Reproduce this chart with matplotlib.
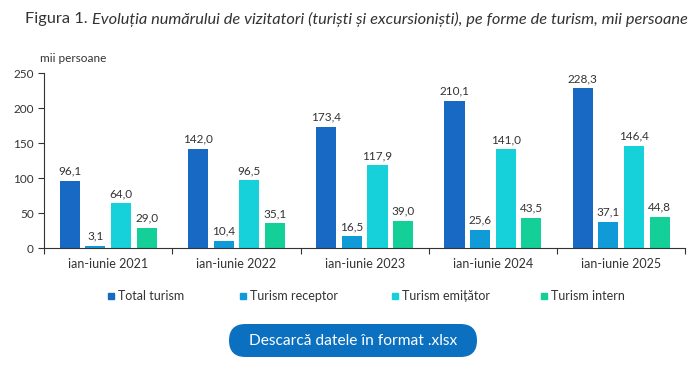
import numpy as np
import matplotlib.pyplot as plt
from matplotlib.patches import FancyBboxPatch, Rectangle

plt.rcParams['font.family'] = ['Lato', 'DejaVu Sans']

# data
categories = ['ian-iunie 2021', 'ian-iunie 2022', 'ian-iunie 2023', 'ian-iunie 2024', 'ian-iunie 2025']
series_names = ['Total turism', 'Turism receptor', 'Turism emițător', 'Turism intern']
total = [96.1, 142.0, 173.4, 210.1, 228.3]
receptor = [3.1, 10.4, 16.5, 25.6, 37.1]
emitator = [64.0, 96.5, 117.9, 141.0, 146.4]
intern = [29.0, 35.1, 39.0, 43.5, 44.8]
yticks = [0, 50, 100, 150, 200, 250]

colors = ['#1769c4', '#119ad8', '#16d0da', '#14cf98']
series = [total, receptor, emitator, intern]
txt = '#333333'

fig = plt.figure(figsize=(7, 3.79), dpi=100)
ax = fig.add_axes([0.063, 0.3456, 0.916, 0.4617])

x = np.arange(len(categories))
step = 0.2
width = 0.157
offsets = (np.arange(4) - 1.5) * step
for vals, off, col in zip(series, offsets, colors):
    bars = ax.bar(x + off, vals, width, color=col, zorder=2)
    for b, v in zip(bars, vals):
        ax.text(b.get_x() + b.get_width() / 2, v + 6, f'{v:.1f}'.replace('.', ','),
                ha='center', va='bottom', fontsize=8.5, color=txt)

ax.set_xlim(-0.5, len(categories) - 0.5)
ax.set_ylim(0, 250)
ax.set_yticks(yticks)
ax.tick_params(axis='y', labelsize=8.5, colors=txt, length=4, width=0.8)
ax.set_xticks(x)
ax.set_xticklabels(categories, fontsize=9, color=txt)
ax.tick_params(axis='x', length=0, pad=7)
ax.set_xticks(np.arange(len(categories) + 1) - 0.5, minor=True)
ax.tick_params(axis='x', which='minor', length=4, width=0.8, color=txt)
for s in ['top', 'right']:
    ax.spines[s].set_visible(False)
for s in ['left', 'bottom']:
    ax.spines[s].set_color(txt)
    ax.spines[s].set_linewidth(0.8)

# unit label
fig.text(40 / 700, 1 - 58 / 379, 'mii persoane', fontsize=8.5, color=txt, va='center')

# title: plain "Figura 1." followed by italic text
t1 = fig.text(25 / 700, 1 - 19 / 379, 'Figura 1.', fontsize=11.8, color=txt, va='center')
fig.canvas.draw()
bb = t1.get_window_extent()
fig.text((bb.x1 + 4) / 700, 1 - 19 / 379,
         'Evoluția numărului de vizitatori (turiști și excursioniști), pe forme de turism, mii persoane',
         fontsize=11.8, style='italic', color=txt, va='center')

# legend
leg_x = [108, 240, 392, 541]
for lx, name, col in zip(leg_x, series_names, colors):
    fig.patches.append(Rectangle((lx / 700, 1 - 299 / 379), 6 / 700, 6 / 379,
                                 transform=fig.transFigure, color=col))
    fig.text((lx + 10) / 700, 1 - 296 / 379, name, fontsize=9, color=txt, va='center')

# download button (pill shape)
btn = FancyBboxPatch((2.29, 0.22), 2.48, 0.33,
                     boxstyle='round,pad=0,rounding_size=0.165',
                     transform=fig.dpi_scale_trans, facecolor='#0b70c0', edgecolor='none')
fig.patches.append(btn)
fig.text(353 / 700, 1 - 341 / 379, 'Descarcă datele în format .xlsx', fontsize=11.2,
         color='white', ha='center', va='center')

fig.savefig('out.png', dpi=100)
